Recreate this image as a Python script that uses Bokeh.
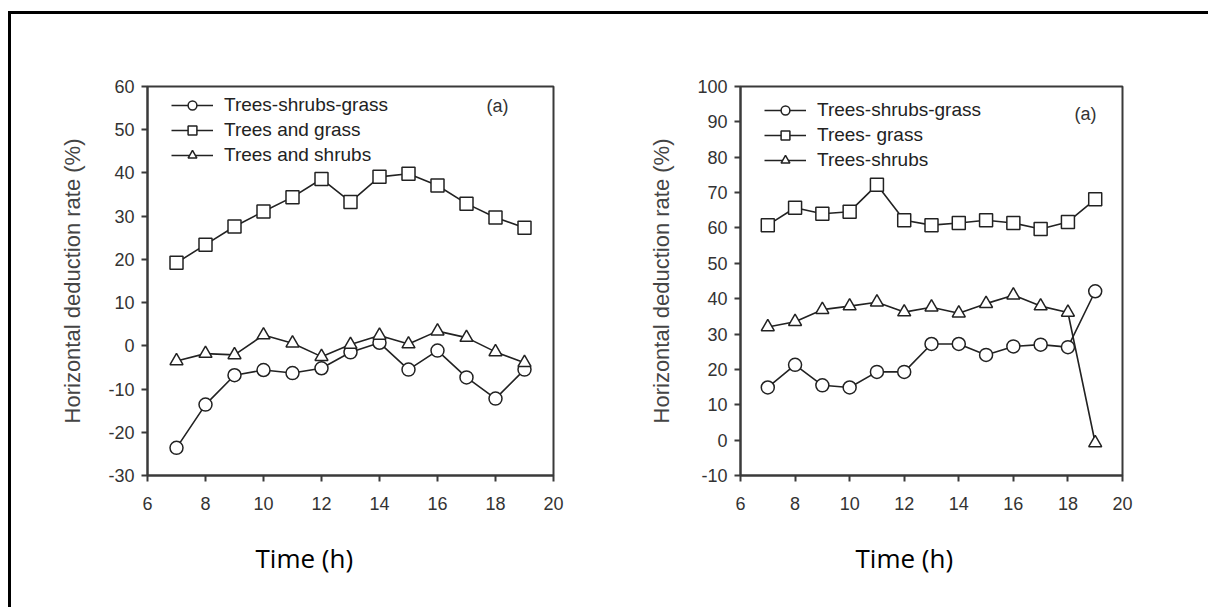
from bokeh.plotting import figure
from bokeh.layouts import row
from bokeh.models import Range1d, FixedTicker, Label, Legend, Title
from bokeh.embed import file_html
from bokeh.resources import INLINE

# ---------------- data ----------------
hours = [7, 8, 9, 10, 11, 12, 13, 14, 15, 16, 17, 18, 19]

left_names = ["Trees-shrubs-grass", "Trees and grass", "Trees and shrubs"]
left_tsg = [-23.6, -13.6, -6.8, -5.6, -6.3, -5.2, -1.5, 0.7, -5.5, -1.1, -7.3, -12.2, -5.5]
left_tg = [19.2, 23.4, 27.6, 31.1, 34.4, 38.6, 33.3, 39.1, 39.8, 37.1, 32.9, 29.7, 27.3]
left_ts = [-3.5, -1.8, -2.1, 2.5, 0.6, -2.5, 0.3, 2.4, 0.4, 3.4, 1.9, -1.4, -3.9]

right_names = ["Trees-shrubs-grass", "Trees- grass", "Trees-shrubs"]
right_tsg = [14.9, 21.3, 15.5, 14.9, 19.3, 19.3, 27.2, 27.2, 24.1, 26.5, 27.0, 26.3, 42.1]
right_tg = [60.8, 65.7, 64.0, 64.6, 72.2, 62.2, 60.8, 61.4, 62.2, 61.4, 59.7, 61.7, 68.1]
right_ts = [32.0, 33.5, 36.9, 37.9, 39.0, 36.2, 37.6, 35.9, 38.6, 41.0, 37.9, 36.1, -0.8]

x_ticks = [6, 8, 10, 12, 14, 16, 18, 20]
left_y_ticks = [-30, -20, -10, 0, 10, 20, 30, 40, 50, 60]
right_y_ticks = [-10, 0, 10, 20, 30, 40, 50, 60, 70, 80, 90, 100]

y_title = "Horizontal deduction rate (%)"
x_title = "Time (h)"
panel_tag = "(a)"

markers = ["circle", "square", "triangle"]
INK = "#222222"
AX = "#3a3a3a"
FONT = "Liberation Sans"


def make_panel(width, height, mb_left, mb_right, mb_top, mb_bottom,
               yr, yticks, series, names, legend_loc, tag_xy, title_offset):
    p = figure(width=width, height=height, output_backend="svg", toolbar_location=None,
               x_range=Range1d(6, 20), y_range=Range1d(*yr),
               min_border_left=mb_left, min_border_right=mb_right,
               min_border_top=mb_top, min_border_bottom=mb_bottom)
    p.xgrid.visible = False
    p.ygrid.visible = False
    p.outline_line_color = AX
    p.outline_line_width = 2
    p.background_fill_color = "white"
    p.border_fill_color = "white"

    p.xaxis.ticker = FixedTicker(ticks=x_ticks)
    p.yaxis.ticker = FixedTicker(ticks=yticks)
    p.xaxis.major_label_overrides = {t: str(t) for t in x_ticks}
    p.yaxis.major_label_overrides = {t: str(t) for t in yticks}
    for ax in (p.xaxis[0], p.yaxis[0]):
        ax.axis_line_color = AX
        ax.axis_line_width = 2
        ax.major_tick_line_color = AX
        ax.major_tick_line_width = 2
        ax.major_tick_in = 0
        ax.major_tick_out = 6
        ax.minor_tick_line_color = None
        ax.major_label_text_font = FONT
        ax.major_label_text_font_size = "18px"
        ax.major_label_text_color = "#333333"
    p.xaxis.major_label_standoff = 15
    p.yaxis.major_label_standoff = 7
    p.yaxis.axis_label = y_title
    p.yaxis.axis_label_text_font = FONT
    p.yaxis.axis_label_text_font_style = "normal"
    p.yaxis.axis_label_text_font_size = "22px"
    p.yaxis.axis_label_text_color = "#444444"
    p.yaxis.axis_label_standoff = 20

    items = []
    for vals, name, mk in zip(series, names, markers):
        r1 = p.line(hours, vals, line_color=INK, line_width=1.6)
        r2 = p.scatter(hours, vals, marker=mk, size=13, fill_color="white",
                       line_color=INK, line_width=1.5)
        items.append((name, [r1, r2]))

    leg = Legend(items=items, location=legend_loc)
    leg.border_line_alpha = 0
    leg.background_fill_alpha = 0
    leg.label_text_font = FONT
    leg.label_text_font_size = "19px"
    leg.label_text_color = "#222222"
    leg.glyph_width = 42
    leg.glyph_height = 22
    leg.label_height = 22
    leg.spacing = 3
    leg.padding = 0
    leg.margin = 0
    leg.label_standoff = 11
    p.add_layout(leg)

    p.add_layout(Label(x=tag_xy[0], y=tag_xy[1], text=panel_tag, text_font=FONT,
                       text_font_size="18px", text_color="#333333",
                       text_align="center", text_baseline="middle"))

    t = Title(text=x_title, align="left", offset=title_offset, vertical_align="top",
              standoff=54, text_font="Open Sans", text_font_size="26px",
              text_font_style="normal", text_color="#000000")
    p.add_layout(t, "below")
    return p


p1 = make_panel(590, 593, 136, 48, 72, 132, (-30, 60), left_y_ticks,
                [left_tsg, left_tg, left_ts], left_names, (24, 309),
                (18.07, 55.6), 108)
p2 = make_panel(607, 593, 139, 86, 72, 132, (-10, 100), right_y_ticks,
                [right_tsg, right_tg, right_ts], right_names, (24, 304),
                (18.64, 92.1), 115)

layout = row(p1, p2, styles={"border-left": "3px solid black",
                             "border-top": "3px solid black",
                             "margin-top": "11px",
                             "margin-left": "8px"})

open("out.html", "w").write(file_html(layout, INLINE))
